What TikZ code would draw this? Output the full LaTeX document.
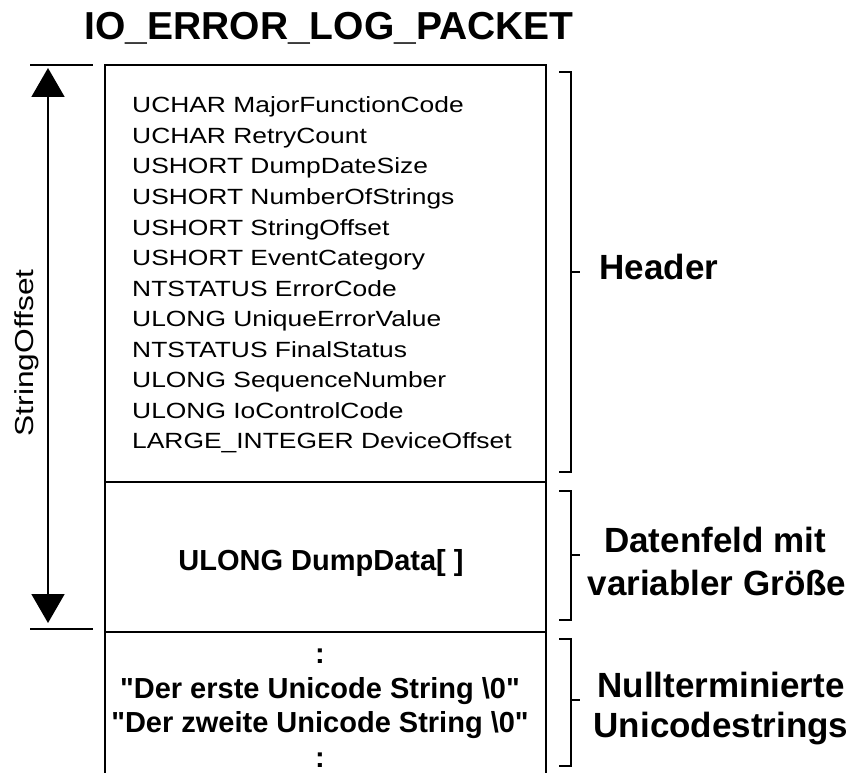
\documentclass[tikz,border=0pt]{standalone}
\usepackage{fontspec}
\setmainfont{Liberation Sans}
\newfontfamily\widefont[FakeStretch=1.2]{Liberation Sans}
\newfontfamily\widerfont[FakeStretch=1.22]{Liberation Sans}
\usetikzlibrary{arrows.meta}

\begin{document}
\begin{tikzpicture}[x=1pt,y=-1pt,
  frame/.style={line width=1.8pt, black},
  brace/.style={line width=1.6pt, black},
  field/.style={anchor=base west, inner sep=0pt, font=\widefont\fontsize{22}{26}\selectfont},
  bigbold/.style={anchor=base, inner sep=0pt, font=\bfseries\fontsize{29}{34}\selectfont},
  side/.style={anchor=base, inner sep=0pt, font=\bfseries\fontsize{35}{40}\selectfont},
  span/.style={frame, {Triangle[width=33pt,length=29pt]}-{Triangle[width=33pt,length=29pt]}},
]
\useasboundingbox (0,0) rectangle (857,773);

% title
\node[anchor=base, inner sep=0pt, font=\bfseries\fontsize{39}{44}\selectfont]
  (title) at (329,40) {IO\_ERROR\_LOG\_PACKET};

% packet frame (open at the bottom)
\coordinate (tl) at (105,65);
\coordinate (tr) at (546,65);
\coordinate (bl) at (105,773);
\coordinate (br) at (546,773);
\coordinate (d1l) at (105,482);
\coordinate (d1r) at (546,482);
\coordinate (d2l) at (105,632);
\coordinate (d2r) at (546,632);
\draw[frame] (bl) -- (tl) -- (tr) -- (br);
\draw[frame] (d1l) -- (d1r);
\draw[frame] (d2l) -- (d2r);

% header fields
\foreach \t [count=\i from 0] in {%
  UCHAR MajorFunctionCode,
  UCHAR RetryCount,
  USHORT DumpDateSize,
  USHORT NumberOfStrings,
  USHORT StringOffset,
  USHORT EventCategory,
  NTSTATUS ErrorCode,
  ULONG UniqueErrorValue,
  NTSTATUS FinalStatus,
  ULONG SequenceNumber,
  ULONG IoControlCode,
  {LARGE\_INTEGER DeviceOffset}}
  \node[field] (f\i) at (132,{113+30.5*\i}) {\t};

% dump data
\node[bigbold] (dump) at (321,570) {ULONG DumpData[ ]};

% strings
\node[bigbold] (dotsA) at (320,663) {:};
\node[bigbold] (strA) at (320,698)
  {\textquotedbl Der erste Unicode String \textbackslash0\textquotedbl};
\node[bigbold] (strB) at (320,732)
  {\textquotedbl Der zweite Unicode String \textbackslash0\textquotedbl};
\node[bigbold] (dotsB) at (320,767) {:};

% StringOffset span
\coordinate (soTop) at (48,68);
\coordinate (soBot) at (48,623);
\draw[frame] (30,65) -- (93,65);
\draw[frame] (30,629) -- (93,629);
\draw[span] (soTop) -- (soBot);
\node[rotate=90, anchor=base, inner sep=0pt, font=\widerfont\fontsize{26}{30}\selectfont]
  (so) at (33,353) {StringOffset};

% side brackets
\draw[brace] (559,72) -- (571,72) -- (571,472) -- (559,472);
\draw[brace] (571,272) -- (580,272);
\draw[brace] (559,491) -- (571,491) -- (571,620) -- (559,620);
\draw[brace] (571,555) -- (580,555);
\draw[brace] (559,639) -- (571,639) -- (571,766) -- (559,766);
\draw[brace] (571,700) -- (580,700);

% side labels
\node[side] (hdr) at (659,279) {Header};
\node[side] (dfA) at (715,552) {Datenfeld mit};
\node[side] (dfB) at (717,595) {variabler Größe};
\node[side] (ntA) at (721,697) {Nullterminierte};
\node[side] (ntB) at (721,737) {Unicodestrings};
\end{tikzpicture}
\end{document}
